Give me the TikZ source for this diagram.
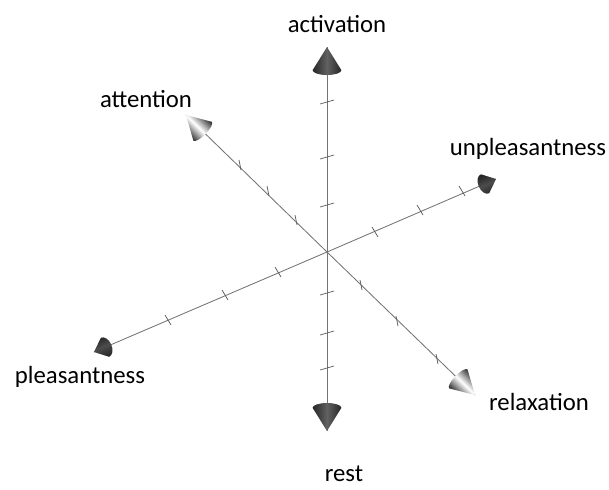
\documentclass[tikz,border=0pt]{standalone}
\usepackage{fontspec}
\setmainfont{Carlito}
\usetikzlibrary{positioning}

\begin{document}
\begin{tikzpicture}[
    x=0.025cm, y=-0.025cm,
    axis/.style={draw=black!55, line width=0.6pt},
    tickmark/.style={draw=black!65, line width=0.5pt},
    lbl/.style={inner sep=0, anchor=base, font=\fontsize{17.6}{20}\selectfont},
    pics/cone/.style n args={5}{code={
        \shade[rotate=#5,
               top color=black!85, bottom color=black!85, middle color=#4,
               shading angle=#5]
            (0pt,0pt) -- (-#1,#2)
            arc[start angle=90, end angle=270, x radius=#3, y radius=#2]
            -- cycle;
    }}
]
\useasboundingbox (0,0) rectangle (609,489);

% origin and axis ends
\coordinate (o) at (327,252);
\coordinate (actTip) at (327,47);
\coordinate (restTip) at (327,431);
\coordinate (attTip) at (186,115);
\coordinate (relTip) at (475,395);
\coordinate (plTip) at (94,352);
\coordinate (unplTip) at (496,179);

% axes
\draw[axis] (o) -- (actTip);
\draw[axis] (o) -- (restTip);
\draw[axis] (o) -- (attTip);
\draw[axis] (o) -- (relTip);
\draw[axis] (o) -- (plTip);
\draw[axis] (o) -- (unplTip);

% ticks
\foreach \y in {102,157,205,293,333,368}
    \draw[tickmark] (320,\y+2) -- (334,\y-2);
\foreach \x/\y in {296/220,268/191,240/165,361/285,397/321,437/359}
    \draw[tickmark] (\x-1,\y-5) -- (\x+1,\y+5);
\foreach \x/\y in {278/272,225/295,168/320,375/232,420/210,462/191}
    \draw[tickmark] (\x-3,\y-5) -- (\x+3,\y+5);

% cones
\pic at (actTip) {cone={0.58cm}{0.36cm}{0.12cm}{black!62}{90}};
\pic at (restTip) {cone={0.58cm}{0.36cm}{0.12cm}{black!62}{-90}};
\pic at (attTip) {cone={0.58cm}{0.33cm}{0.1cm}{white}{135.6}};
\pic at (relTip) {cone={0.58cm}{0.33cm}{0.1cm}{white}{-44}};
\pic at (plTip) {cone={0.3cm}{0.26cm}{0.17cm}{black!70}{203.3}};
\pic at (unplTip) {cone={0.3cm}{0.26cm}{0.17cm}{black!70}{23.5}};

% labels
\node[lbl] (activation) at (337,32) {activation};
\node[lbl] (attention) at (146,107) {attention};
\node[lbl] (unpleasantness) at (528,155) {unpleasantness};
\node[lbl] (pleasantness) at (80,383) {pleasantness};
\node[lbl] (relaxation) at (539,410) {relaxation};
\node[lbl] (rest) at (344,481) {rest};
\end{tikzpicture}
\end{document}
